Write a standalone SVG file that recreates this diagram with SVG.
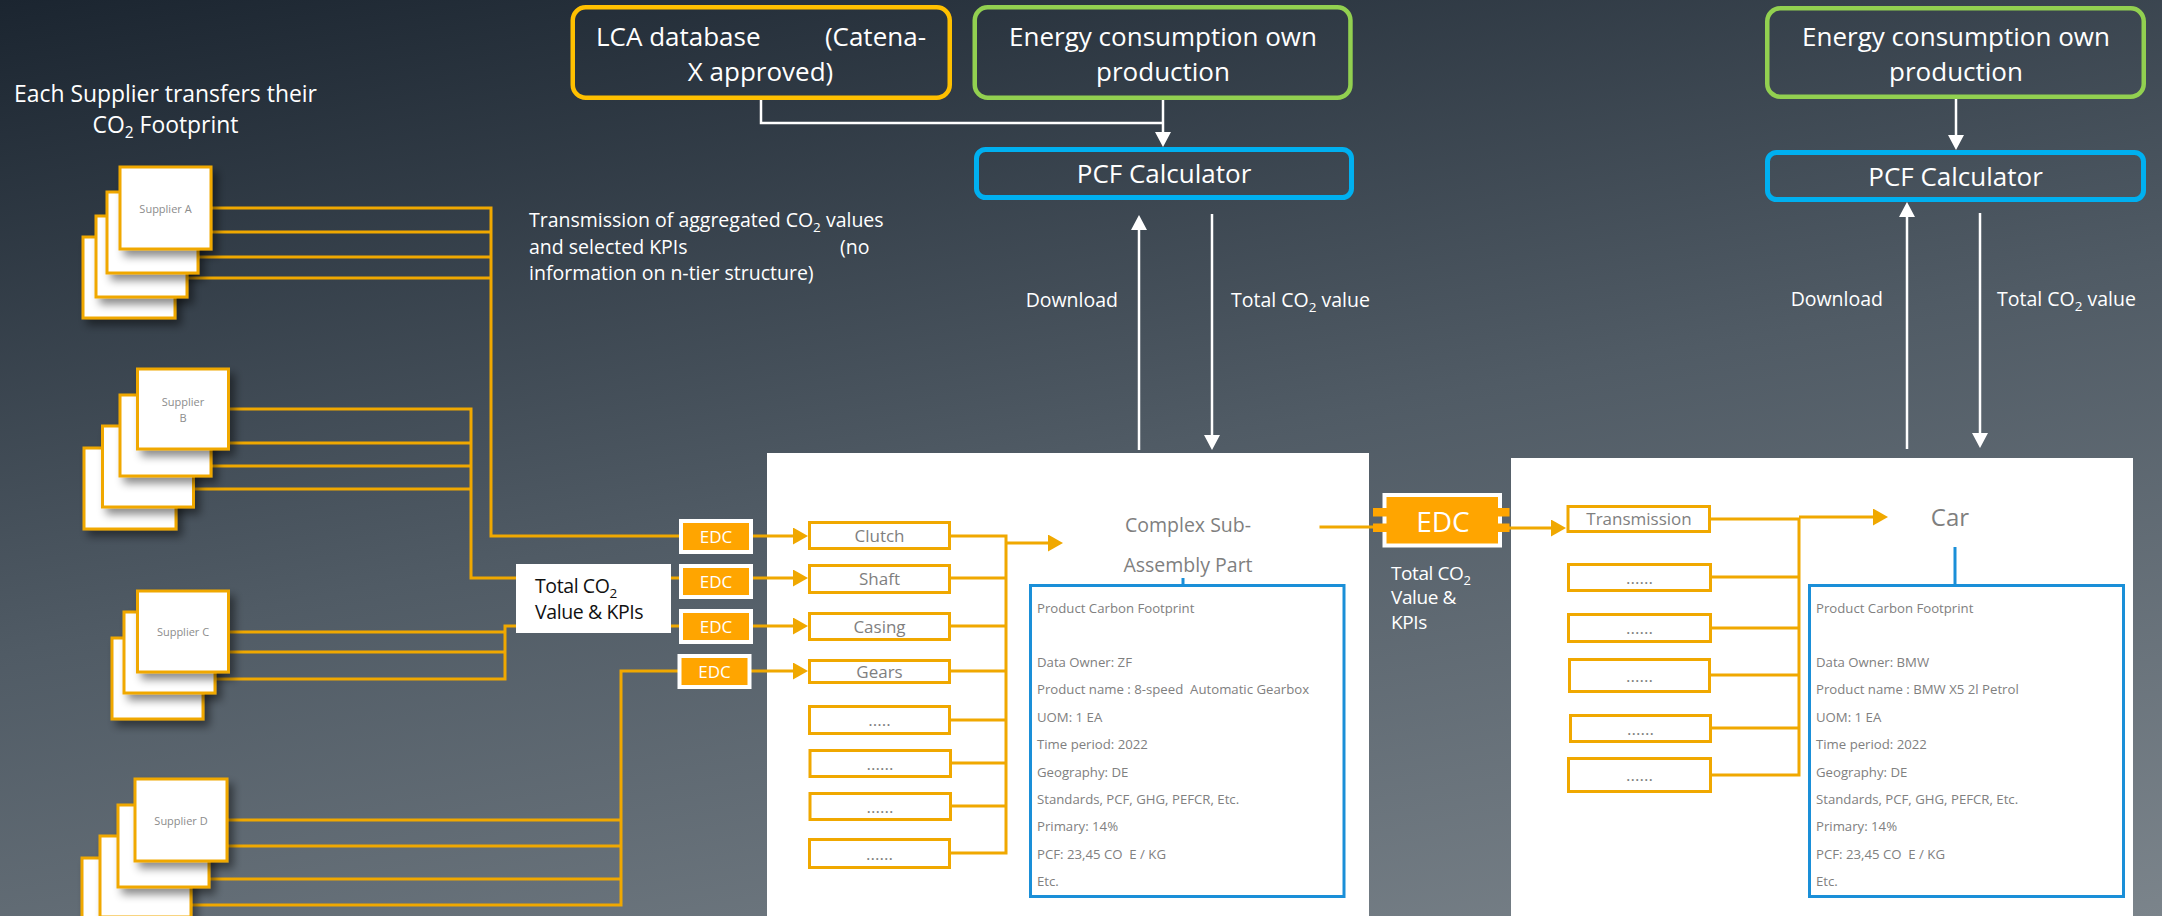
<svg xmlns="http://www.w3.org/2000/svg" width="2162" height="916" viewBox="0 0 2162 916">
<defs>
<linearGradient id="bg" gradientUnits="userSpaceOnUse" x1="0" y1="0" x2="230" y2="1267">
<stop offset="0" stop-color="#1b2530"/>
<stop offset="0.5" stop-color="#505b65"/>
<stop offset="1" stop-color="#7b848b"/>
</linearGradient>
<filter id="sh" x="-20%" y="-20%" width="150%" height="150%">
<feDropShadow dx="5" dy="6" stdDeviation="4" flood-color="#000" flood-opacity="0.45"/>
</filter>
<marker id="ao" markerUnits="userSpaceOnUse" markerWidth="16" markerHeight="18" refX="10" refY="8.5" orient="auto">
<path d="M0,0 L15,8.5 L0,17 z" fill="#F0A800"/>
</marker>
<marker id="aw" markerUnits="userSpaceOnUse" markerWidth="16" markerHeight="17" refX="10" refY="8" orient="auto">
<path d="M0,0 L15,8 L0,16 z" fill="#fff"/>
</marker>
<style>
.t{font-family:"Open Sans","Noto Sans","DejaVu Sans",sans-serif}
.w{fill:#fff}
.g{fill:#7f7f7f}
.k{fill:#111}
.ln{stroke:#F0A800;stroke-width:3;fill:none}
.sup{fill:#fff;stroke:#F0A800;stroke-width:3;filter:url(#sh)}
.comp{fill:#fff;stroke:#F0A800;stroke-width:3}
.edc{fill:#FFA500;stroke:#fff;stroke-width:4}
.tab{fill:#FFA500}
.wl{stroke:#fff;stroke-width:2.5;fill:none}
.pcf{fill:none;stroke:#00B0F0;stroke-width:5}
.pbox{fill:#fff;stroke:#1a8fd8;stroke-width:3}
.bl{stroke:#1a8fd8;stroke-width:3}
.sl{font-size:11px;fill:#8c8c8c}
.ct{font-size:17px;text-anchor:middle}
.pt{font-size:13.2px;fill:#808080;white-space:pre}
.big{font-size:26px;fill:#fff}
.lab{font-size:19.5px;fill:#fff}
</style>
</defs>
<rect x="0" y="0" width="2162" height="916" fill="url(#bg)"/>

<g id="title" class="t">
<text x="165.5" y="102" class="w" font-size="22.9" text-anchor="middle">Each Supplier transfers their</text>
<text x="165.5" y="133" class="w" font-size="22.9" text-anchor="middle">CO<tspan font-size="15.5" dy="5">2</tspan><tspan dy="-5"> Footprint</tspan></text>
</g>

<g id="transmission-note" class="t lab">
<text x="529" y="227">Transmission of aggregated CO<tspan font-size="13.5" dy="5">2</tspan><tspan dy="-5"> values</tspan></text>
<text x="529" y="254">and selected KPIs<tspan x="840">(no</tspan></text>
<text x="529" y="280">information on n-tier structure)</text>
</g>

<!-- connectors -->
<g id="connectors">
<g id="supplier-wires" class="ln">
<path d="M211,208 H491 V536 H679"/>
<path d="M211,232 H491 M198,257 H491 M187,278 H491"/>
<path d="M228.6,409 H471 V578 H680"/>
<path d="M228.6,443 H471 M211,466 H471 M193,489 H471"/>
<path d="M228.6,632 H505 M228.6,652 H505"/>
<path d="M215,679 H505 V626 H680"/>
<path d="M227,820 H621 M227,846 H621 M209,879 H621"/>
<path d="M191,905 H621 V671 H678"/>
</g>
<g id="edc-arrows" class="ln">
<path d="M753,536 H803" marker-end="url(#ao)"/>
<path d="M753,578 H803" marker-end="url(#ao)"/>
<path d="M753,626 H803" marker-end="url(#ao)"/>
<path d="M751,671 H803" marker-end="url(#ao)"/>
</g>
<g id="white-arrows" class="wl">
<path d="M761,100 V123 H1163"/>
<path d="M1163,100 V142" marker-end="url(#aw)"/>
<path d="M1956,99 V145" marker-end="url(#aw)"/>
<path d="M1139,450 V220" marker-end="url(#aw)"/>
<path d="M1212,214 V445" marker-end="url(#aw)"/>
<path d="M1907,449 V207" marker-end="url(#aw)"/>
<path d="M1980,213 V443" marker-end="url(#aw)"/>
</g>
</g>

<g id="top-boxes" class="t">
<g id="lca">
<rect x="572.75" y="7.25" width="377" height="90.5" rx="13" fill="none" stroke="#FFC000" stroke-width="4.5"/>
<text x="596" y="46" class="big">LCA database</text>
<text x="926" y="46" class="big" text-anchor="end">(Catena-</text>
<text x="760.5" y="81" class="big" text-anchor="middle">X approved)</text>
</g>
<g id="energy-mid">
<rect x="974.75" y="7.25" width="375.7" height="90.5" rx="13" fill="none" stroke="#92D050" stroke-width="4.5"/>
<text x="1163" y="46" class="big" text-anchor="middle">Energy consumption own</text>
<text x="1163" y="81" class="big" text-anchor="middle">production</text>
</g>
<g id="energy-right">
<rect x="1767.25" y="8.25" width="376.5" height="88.5" rx="13" fill="none" stroke="#92D050" stroke-width="4.5"/>
<text x="1956" y="46" class="big" text-anchor="middle">Energy consumption own</text>
<text x="1956" y="81" class="big" text-anchor="middle">production</text>
</g>
<g id="pcf-calc-mid">
<rect x="976.5" y="149.5" width="375" height="48" rx="9" class="pcf"/>
<text x="1164" y="183" class="big" text-anchor="middle">PCF Calculator</text>
</g>
<g id="pcf-calc-right">
<rect x="1767.5" y="152.5" width="376" height="47" rx="9" class="pcf"/>
<text x="1955.5" y="186" class="big" text-anchor="middle">PCF Calculator</text>
</g>
</g>

<g id="flow-labels" class="t lab">
<text x="1118" y="307" text-anchor="end">Download</text>
<text x="1231" y="307">Total CO<tspan font-size="13.5" dy="5">2</tspan><tspan dy="-5"> value</tspan></text>
<text x="1883" y="306" text-anchor="end">Download</text>
<text x="1997" y="306">Total CO<tspan font-size="13.5" dy="5">2</tspan><tspan dy="-5"> value</tspan></text>
</g>

<g id="supplier-a" class="t">
<rect x="83" y="237" width="92" height="81" class="sup"/>
<rect x="96" y="216" width="91" height="81" class="sup"/>
<rect x="107" y="192" width="91" height="81" class="sup"/>
<rect x="120" y="167" width="91" height="82" class="sup"/>
<text x="165.5" y="213" class="sl" text-anchor="middle">Supplier A</text>
</g>
<g id="supplier-b" class="t">
<rect x="84" y="448" width="92" height="81" class="sup"/>
<rect x="102.5" y="426" width="91" height="81" class="sup"/>
<rect x="120" y="395" width="91" height="81" class="sup"/>
<rect x="137.5" y="369" width="91" height="80" class="sup"/>
<text x="183" y="406" class="sl" text-anchor="middle">Supplier</text>
<text x="183" y="422" class="sl" text-anchor="middle">B</text>
</g>
<g id="supplier-c" class="t">
<rect x="112" y="638" width="91" height="81" class="sup"/>
<rect x="124" y="612" width="91" height="81" class="sup"/>
<rect x="137.5" y="591" width="91" height="81" class="sup"/>
<text x="183" y="636" class="sl" text-anchor="middle">Supplier C</text>
</g>
<g id="supplier-d" class="t">
<rect x="82" y="858" width="92" height="81" class="sup"/>
<rect x="100" y="836" width="91" height="81" class="sup"/>
<rect x="118" y="805" width="91" height="82" class="sup"/>
<rect x="135" y="779" width="92" height="82" class="sup"/>
<text x="181" y="825" class="sl" text-anchor="middle">Supplier D</text>
</g>

<g id="total-box-mid" class="t">
<rect x="516" y="564" width="155" height="69" fill="#fff"/>
<text x="535" y="593" class="k" font-size="19.5" letter-spacing="-0.4">Total CO<tspan font-size="13.5" dy="5">2</tspan></text>
<text x="535" y="619" class="k" font-size="19.5" letter-spacing="-0.4">Value &amp; KPIs</text>
</g>

<g id="edc-small" class="t">
<rect x="681" y="521" width="70" height="31" class="edc"/>
<rect x="681" y="566" width="70" height="31" class="edc"/>
<rect x="681" y="611" width="70" height="31" class="edc"/>
<rect x="679.5" y="656" width="70" height="31" class="edc"/>
<text x="716" y="543" class="w" font-size="17" text-anchor="middle">EDC</text>
<text x="716" y="588" class="w" font-size="17" text-anchor="middle">EDC</text>
<text x="716" y="633" class="w" font-size="17" text-anchor="middle">EDC</text>
<text x="714.5" y="678" class="w" font-size="17" text-anchor="middle">EDC</text>
</g>

<g id="panel-mid">
<rect x="767" y="453" width="602" height="463" fill="#fff"/>
</g>
<g id="panel-right">
<rect x="1511" y="458" width="622" height="458" fill="#fff"/>
</g>

<g id="connectors-on-panels">
<g class="ln">
<path d="M767,536 H803" marker-end="url(#ao)"/>
<path d="M767,578 H803" marker-end="url(#ao)"/>
<path d="M767,626 H803" marker-end="url(#ao)"/>
<path d="M767,671 H803" marker-end="url(#ao)"/>
<path d="M951,536 H1006 V853 H951"/>
<path d="M951,578 H1006 M951,626 H1006 M951,671 H1006 M951,720 H1006 M951,763 H1006 M951,806 H1006"/>
<path d="M1006,543 H1058" marker-end="url(#ao)"/>
<path d="M1319.5,527 H1380"/>
<path d="M1505,528 H1561" marker-end="url(#ao)"/>
<path d="M1711,519 H1799 V775 H1711"/>
<path d="M1711,577 H1799 M1711,628 H1799 M1711,675 H1799 M1711,728 H1799"/>
<path d="M1799,517 H1883" marker-end="url(#ao)"/>
</g>
<path d="M1183,578 V585" class="bl"/>
<path d="M1955,547 V585" class="bl"/>
</g>

<g id="components-mid" class="t g">
<rect x="809.5" y="522.5" width="140" height="26" class="comp"/>
<rect x="809.5" y="565.5" width="140" height="27" class="comp"/>
<rect x="809.5" y="613.5" width="140" height="26" class="comp"/>
<rect x="809.5" y="660.5" width="140" height="22" class="comp"/>
<rect x="809.5" y="706.5" width="140" height="27" class="comp"/>
<rect x="810" y="750.5" width="140.5" height="26" class="comp"/>
<rect x="810" y="793.5" width="140.5" height="26" class="comp"/>
<rect x="809.5" y="839.5" width="140" height="28" class="comp"/>
<text x="879.5" y="541.5" class="ct">Clutch</text>
<text x="879.5" y="585" class="ct">Shaft</text>
<text x="879.5" y="632.5" class="ct">Casing</text>
<text x="879.5" y="677.5" class="ct">Gears</text>
<text x="879.5" y="726" class="ct">.....</text>
<text x="880" y="769.5" class="ct">......</text>
<text x="880" y="812.5" class="ct">......</text>
<text x="879.5" y="860" class="ct">......</text>
</g>

<g id="complex-part" class="t g">
<text x="1188" y="532" font-size="19.5" text-anchor="middle">Complex Sub-</text>
<text x="1188" y="572" font-size="19.5" text-anchor="middle">Assembly Part</text>
</g>

<g id="pcf-mid" class="t">
<rect x="1030.5" y="585.5" width="313.5" height="311" class="pbox"/>
<text x="1037" y="613" class="pt">Product Carbon Footprint</text>
<text x="1037" y="667" class="pt">Data Owner: ZF</text>
<text x="1037" y="694.4" class="pt">Product name : 8-speed  Automatic Gearbox</text>
<text x="1037" y="721.8" class="pt">UOM: 1 EA</text>
<text x="1037" y="749.2" class="pt">Time period: 2022</text>
<text x="1037" y="776.6" class="pt">Geography: DE</text>
<text x="1037" y="804" class="pt">Standards, PCF, GHG, PEFCR, Etc.</text>
<text x="1037" y="831.4" class="pt">Primary: 14%</text>
<text x="1037" y="858.8" class="pt">PCF: 23,45 CO  E / KG</text>
<text x="1037" y="886.2" class="pt">Etc.</text>
</g>

<g id="edc-big" class="t">
<rect x="1384.5" y="495" width="115.5" height="50.5" class="edc" stroke-width="4.5"/>
<rect x="1373" y="508" width="14" height="8.5" class="tab"/>
<rect x="1373" y="523.5" width="14" height="8.5" class="tab"/>
<rect x="1497" y="508" width="12.5" height="8.5" class="tab"/>
<rect x="1497" y="523.5" width="12.5" height="8.5" class="tab"/>
<text x="1443" y="532" class="w" font-size="28" text-anchor="middle">EDC</text>
</g>

<g id="total-label-right" class="t">
<text x="1391" y="580" class="w" font-size="19" letter-spacing="-0.4">Total CO<tspan font-size="13" dy="5">2</tspan></text>
<text x="1391" y="604" class="w" font-size="19" letter-spacing="-0.4">Value &amp;</text>
<text x="1391" y="629" class="w" font-size="19" letter-spacing="-0.4">KPIs</text>
</g>

<g id="components-right" class="t g">
<rect x="1568" y="506.5" width="141.5" height="25" class="comp"/>
<rect x="1568.5" y="564.5" width="142" height="26" class="comp"/>
<rect x="1568.5" y="614.5" width="142" height="27" class="comp"/>
<rect x="1569.5" y="659.5" width="140" height="32" class="comp"/>
<rect x="1570.5" y="715.5" width="140" height="26" class="comp"/>
<rect x="1568.5" y="758.5" width="142" height="33" class="comp"/>
<text x="1639" y="525" class="ct">Transmission</text>
<text x="1639.5" y="583.5" class="ct">......</text>
<text x="1639.5" y="634" class="ct">......</text>
<text x="1639.5" y="681.5" class="ct">......</text>
<text x="1640.5" y="734.5" class="ct">......</text>
<text x="1639.5" y="781" class="ct">......</text>
</g>

<g id="car" class="t g">
<text x="1950" y="526" font-size="24" text-anchor="middle">Car</text>
</g>

<g id="pcf-right" class="t">
<rect x="1809.5" y="585.5" width="314" height="311" class="pbox"/>
<text x="1816" y="613" class="pt">Product Carbon Footprint</text>
<text x="1816" y="667" class="pt">Data Owner: BMW</text>
<text x="1816" y="694.4" class="pt">Product name : BMW X5 2l Petrol</text>
<text x="1816" y="721.8" class="pt">UOM: 1 EA</text>
<text x="1816" y="749.2" class="pt">Time period: 2022</text>
<text x="1816" y="776.6" class="pt">Geography: DE</text>
<text x="1816" y="804" class="pt">Standards, PCF, GHG, PEFCR, Etc.</text>
<text x="1816" y="831.4" class="pt">Primary: 14%</text>
<text x="1816" y="858.8" class="pt">PCF: 23,45 CO  E / KG</text>
<text x="1816" y="886.2" class="pt">Etc.</text>
</g>
</svg>
